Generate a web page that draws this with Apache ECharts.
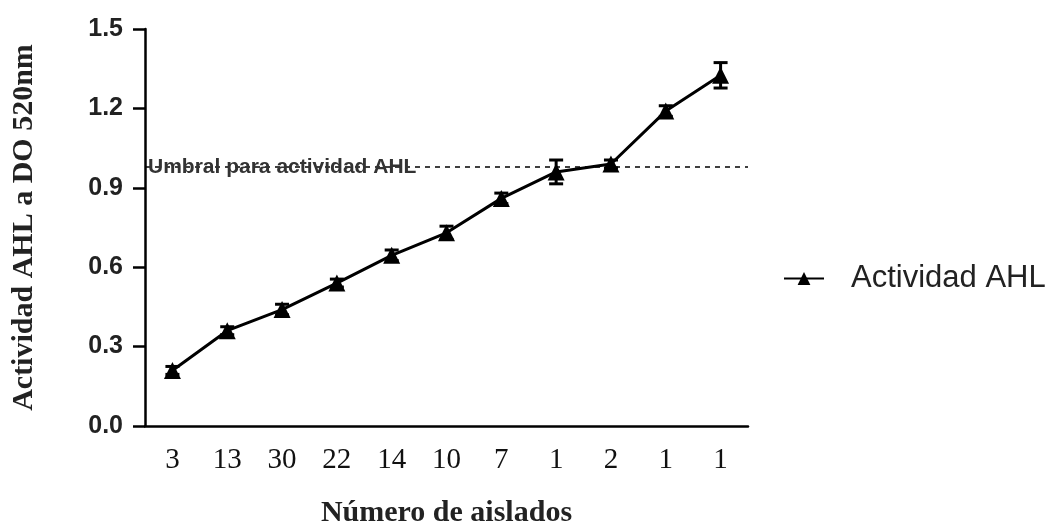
<!DOCTYPE html>
<html>
<head>
<meta charset="utf-8">
<script src="https://cdn.jsdelivr.net/npm/echarts@6/dist/echarts.min.js"></script>
<style>
  html, body { margin: 0; padding: 0; background: #fff; }
  #chart { width: 1052px; height: 525px; }
</style>
</head>
<body>
<div id="chart"></div>
<script>
// Number of isolates per group (x categories)
const categories = ['3', '13', '30', '22', '14', '10', '7', '1', '2', '1', '1'];
// Mean AHL activity (OD 520 nm) per group
const meanActivity = [0.21, 0.36, 0.44, 0.54, 0.645, 0.73, 0.86, 0.96, 0.99, 1.19, 1.325];
// Error (± SEM) per group
const errActivity = [0.015, 0.015, 0.02, 0.015, 0.02, 0.025, 0.02, 0.045, 0.015, 0.02, 0.048];
// Threshold for AHL activity
const threshold = 0.98;
const yTicks = { min: 0, max: 1.5, interval: 0.3 };

const errorData = meanActivity.map((m, i) => [i, m - errActivity[i], m + errActivity[i]]);

const chart = echarts.init(document.getElementById('chart'), null, { renderer: 'canvas' });

chart.setOption({
  animation: false,
  backgroundColor: '#ffffff',
  grid: { left: 145, right: 304, top: 29, bottom: 99, containLabel: false, outerBoundsMode: 'none' },
  legend: {
    left: 778,
    top: 258,
    itemWidth: 40,
    itemHeight: 16,
    itemGap: 10,
    textStyle: { fontFamily: 'Liberation Sans, Arial, sans-serif', fontSize: 31, color: '#222', padding: [0, 0, 0, 22] },
    data: ['Actividad AHL']
  },
  xAxis: {
    type: 'category',
    data: categories,
    name: 'Número de aislados',
    nameLocation: 'middle',
    nameGap: 72,
    nameTextStyle: { fontFamily: 'Liberation Serif, Times New Roman, serif', fontWeight: 'bold', fontSize: 30, color: '#222' },
    axisLine: { lineStyle: { color: '#000', width: 2.5 } },
    axisTick: { alignWithLabel: true, length: 8, lineStyle: { color: '#000', width: 2.5 } },
    axisLabel: { fontFamily: 'Liberation Serif, Times New Roman, serif', fontSize: 29, color: '#111', margin: 20 }
  },
  yAxis: {
    type: 'value',
    min: yTicks.min,
    max: yTicks.max,
    interval: yTicks.interval,
    name: 'Actividad AHL a DO 520nm',
    nameLocation: 'middle',
    nameGap: 106,
    nameRotate: 90,
    nameTextStyle: { fontFamily: 'Liberation Serif, Times New Roman, serif', fontWeight: 'bold', fontSize: 30, color: '#222' },
    splitLine: { show: false },
    axisLine: { show: true, lineStyle: { color: '#000', width: 2.5 } },
    axisTick: { show: true, length: 12, lineStyle: { color: '#000', width: 2.5 } },
    axisLabel: {
      fontFamily: 'Liberation Sans, Arial, sans-serif', fontWeight: 'bold', fontSize: 25, color: '#222', margin: 22,
      formatter: v => v.toFixed(1)
    }
  },
  series: [
    {
      name: 'Actividad AHL',
      type: 'line',
      data: meanActivity,
      symbol: 'triangle',
      symbolSize: 17,
      itemStyle: { color: '#000' },
      lineStyle: { color: '#000', width: 3 },
      z: 3,
      markLine: {
        silent: true,
        symbol: 'none',
        lineStyle: { color: '#000', type: [5, 5], width: 1.5 },
        label: {
          show: true,
          position: 'insideStartTop',
          distance: -11,
          offset: [14, 0],
          formatter: 'Umbral para actividad AHL',
          fontFamily: 'Liberation Sans, Arial, sans-serif',
          fontWeight: 'bold',
          fontSize: 21,
          color: '#333'
        },
        data: [{ yAxis: threshold }]
      }
    },
    {
      name: 'error',
      type: 'custom',
      data: errorData,
      z: 4,
      renderItem: function (params, api) {
        const i = api.value(0);
        const lo = api.coord([i, api.value(1)]);
        const hi = api.coord([i, api.value(2)]);
        const hw = 7;
        const style = { stroke: '#000', lineWidth: 3 };
        return {
          type: 'group',
          children: [
            { type: 'line', shape: { x1: hi[0], y1: hi[1], x2: lo[0], y2: lo[1] }, style },
            { type: 'line', shape: { x1: hi[0] - hw, y1: hi[1], x2: hi[0] + hw, y2: hi[1] }, style },
            { type: 'line', shape: { x1: lo[0] - hw, y1: lo[1], x2: lo[0] + hw, y2: lo[1] }, style }
          ]
        };
      }
    }
  ]
});
</script>
</body>
</html>
